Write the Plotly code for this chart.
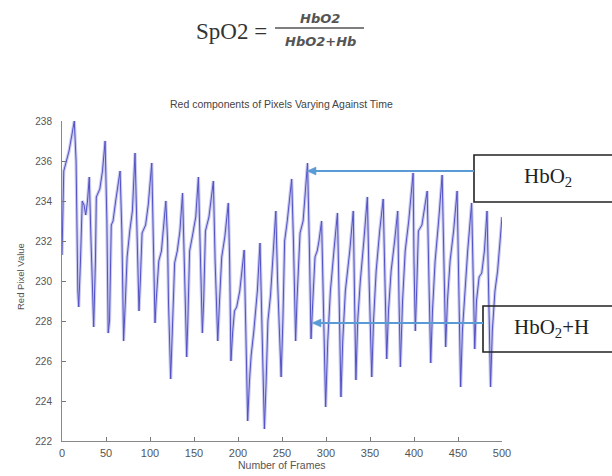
import plotly.graph_objects as go

# Red channel value of the ROI, sampled at the turning points of each pulse
frames = [0, 2, 5, 8, 14, 16, 18, 19, 21, 23, 25, 27, 29, 31, 33, 35, 36, 38, 39, 43, 46, 49, 51, 52.5,
          54, 56, 58, 61, 66, 68, 70, 72, 74, 77, 80, 83, 85, 87.5, 89, 91, 95, 98, 102, 104, 105.7,
          107, 110, 113, 116, 118, 120, 121, 123.5, 125, 128, 131, 134, 137, 139, 141.7, 143, 145,
          148, 152, 155, 157, 159.5, 161, 163, 167, 172, 174, 177, 179, 181.5, 185, 189, 190.5, 192,
          194, 196, 198.5, 202, 207, 209, 211, 213, 215, 218, 222, 225, 227, 230, 232, 234, 237, 240,
          243, 245, 249, 251, 253, 256, 261, 263, 265.5, 267, 270.5, 274, 279, 281, 283, 285, 287.5,
          290, 292, 295, 297, 299.6, 302, 305, 309, 313, 315, 317, 319, 322, 327, 331, 332.5, 334,
          336, 339, 343, 347, 349, 352, 354, 357, 361, 365, 367, 369, 371, 374, 378, 381.5, 383,
          384.5, 387, 390, 394, 399, 400, 401.5, 403, 405, 409, 415, 417, 419, 421, 424, 428, 432,
          434, 436, 438, 441, 445, 449, 451, 453, 455, 458, 461, 465.5, 467, 469, 471, 474, 477, 480,
          483, 485, 487, 489, 492, 495, 497, 500]
red_values = [231.3, 235.5, 236.0, 236.5, 238.0, 236.0, 229.5, 228.7, 231.0, 234.0, 233.8, 233.3, 234.0,
              235.2, 232.0, 228.0, 227.7, 231.0, 234.2, 234.6, 235.5, 237.0, 233.0, 227.4,
              228.0, 232.8, 233.0, 234.0, 235.5, 232.5, 227.0, 229.0, 231.2, 232.5, 233.5, 236.4, 233.0,
              228.5, 230.0, 232.4, 232.8, 233.8, 235.9, 232.0, 227.9,
              229.0, 231.0, 231.5, 233.0, 234.0, 232.0, 229.0, 225.1, 227.0, 230.9, 231.5, 232.5, 234.4,
              231.0, 226.2, 228.0, 231.5,
              232.2, 233.2, 235.2, 231.5, 227.4, 229.0, 232.5, 233.2, 235.0, 231.0, 227.0, 229.0, 231.2,
              232.2, 233.9, 231.0, 226.0,
              227.5, 228.5, 228.7, 229.5, 231.55, 228.0, 223.0, 225.0, 226.3, 227.5, 229.5, 231.9, 228.0,
              222.6, 225.0, 228.0, 229.3, 231.5,
              233.5, 230.0, 225.2, 228.0, 232.0, 233.0, 235.1, 232.0, 227.0, 229.0, 232.4, 233.0, 235.9,
              232.0, 227.1, 229.0, 231.2,
              231.5, 232.0, 233.0, 229.0, 223.7, 227.0, 229.5, 231.5, 233.4, 229.0, 224.2, 227.0, 229.5,
              231.5, 233.5, 229.0, 225.05,
              228.0, 230.0, 232.0, 234.2, 230.0, 225.2, 228.0, 230.5, 232.5, 234.1, 230.0, 226.1, 228.5,
              230.5, 232.0, 233.5, 229.0,
              225.7, 229.0, 231.5, 233.0, 235.4, 231.0, 227.5, 229.5, 232.5, 232.8, 234.5, 230.0, 225.9,
              228.5, 231.0, 233.0, 235.3,
              231.0, 226.7, 229.0, 231.0, 232.5, 234.5, 229.5, 224.7, 227.5, 229.8, 231.5, 233.9, 230.0,
              226.6, 229.0, 230.2, 230.4, 231.5,
              233.5, 229.0, 224.7, 227.5, 229.5, 230.5, 231.5, 233.2]

x_ticks = list(range(0, 501, 50))
y_ticks = list(range(222, 239, 2))

# Plot-area geometry in pixels, used to place the labels around it
W, H = 612, 476
L, R, T, B = 62, 502, 121, 441


def px(x):
    return (x - L) / (R - L)


def py(y):
    return (B - y) / (B - T)


def label(x, y, text, family, size, color, angle=0):
    return dict(x=px(x), y=py(y), xref="paper", yref="paper", showarrow=False,
                xanchor="center", yanchor="middle", text=text, textangle=angle,
                font=dict(family=family, size=size, color=color))


ARROW_BLUE = "#5b9bd5"


def arrow_shapes(x_head, x_tail, y):
    """Horizontal callout arrow (shaft plus filled head) pointing left."""
    head_len, half_w = 9, 4
    shaft = dict(type="line", xref="paper", yref="paper",
                 x0=px(x_tail), x1=px(x_head + head_len - 1), y0=py(y), y1=py(y),
                 line=dict(color=ARROW_BLUE, width=2.2))
    path = (f"M {px(x_head)} {py(y)} "
            f"L {px(x_head + head_len)} {py(y - half_w)} "
            f"L {px(x_head + head_len)} {py(y + half_w)} Z")
    head = dict(type="path", xref="paper", yref="paper", path=path,
                fillcolor=ARROW_BLUE, line=dict(color=ARROW_BLUE, width=0.5))
    return [shaft, head]


SANS = "Liberation Sans, Arial"
SERIF = "Liberation Serif, Times New Roman"
GREY = "#555"

fig = go.Figure()
# soft halo under the trace
fig.add_trace(go.Scatter(x=frames, y=red_values, mode="lines",
                         line=dict(color="rgba(150,150,220,0.5)", width=3.2),
                         hoverinfo="skip", showlegend=False))
fig.add_trace(go.Scatter(x=frames, y=red_values, mode="lines",
                         line=dict(color="#5252c6", width=1.0), showlegend=False))

annotations = [
    label(281, 104, "Red components of Pixels Varying Against Time", SANS, 10.5, "#444"),
    # axis titles
    label(282, 465, "Number of Frames", SANS, 10.5, GREY),
    label(20, 277, "Red Pixel Value", SANS, 9.5, GREY, angle=-90),
    # SpO2 formula
    label(231, 31, "SpO2 =", SERIF, 23, "#333"),
    label(320, 18, "<b><i>HbO2</i></b>", "DejaVu Sans", 13, GREY),
    label(320, 41, "<b><i>HbO2+Hb</i></b>", "DejaVu Sans", 13, GREY),
    # callout labels
    label(548, 177, "HbO<sub>2</sub>", SERIF, 21, "#222"),
    label(551, 328, "HbO<sub>2</sub>+H", SERIF, 21, "#222"),
]

shapes = [
    # fraction bar
    dict(type="line", xref="paper", yref="paper", x0=px(275), x1=px(364), y0=py(28), y1=py(28),
         line=dict(color=GREY, width=1.3)),
    # callout boxes
    dict(type="rect", xref="paper", yref="paper", x0=px(474), x1=px(625), y0=py(155), y1=py(202),
         line=dict(color="#222", width=1.6), fillcolor="rgba(0,0,0,0)", layer="above"),
    dict(type="rect", xref="paper", yref="paper", x0=px(483), x1=px(625), y0=py(306), y1=py(352),
         line=dict(color="#222", width=1.6), fillcolor="rgba(0,0,0,0)", layer="above"),
]
shapes += arrow_shapes(307, 474, 171)
shapes += arrow_shapes(312, 483, 323)

fig.update_layout(
    width=W, height=H,
    margin=dict(l=L, r=W - R, t=T, b=H - B, pad=0, autoexpand=False),
    paper_bgcolor="white", plot_bgcolor="white",
    annotations=annotations, shapes=shapes,
    xaxis=dict(range=[0, 500], tickvals=x_ticks, ticks="inside", ticklen=4, tickcolor="#777",
               showline=True, linecolor="#888", linewidth=1, showgrid=False, zeroline=False,
               automargin=False, ticklabelstandoff=2,
               tickfont=dict(family=SANS, size=11, color=GREY)),
    yaxis=dict(range=[222, 238], tickvals=y_ticks, ticks="inside", ticklen=4, tickcolor="#777",
               showline=True, linecolor="#888", linewidth=1, showgrid=False, zeroline=False,
               automargin=False, ticklabelstandoff=7,
               tickfont=dict(family=SANS, size=10, color=GREY)),
)

fig.write_html("out.html")
